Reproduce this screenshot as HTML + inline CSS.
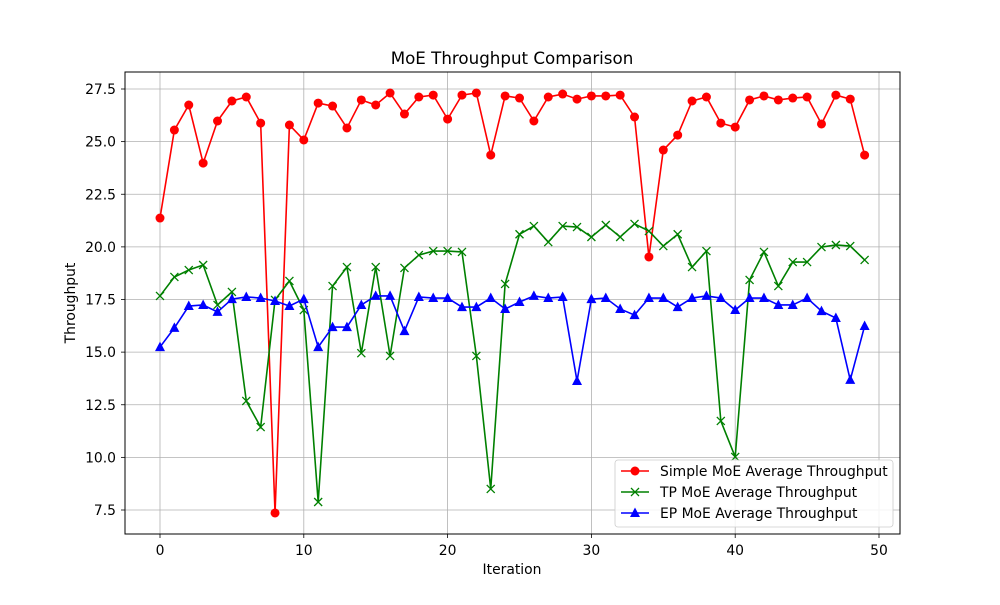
<!DOCTYPE html>
<html><head><meta charset="utf-8"><style>
body{margin:0;background:#fff;font-family:"Liberation Sans","DejaVu Sans",sans-serif}
svg text{font-family:"DejaVu Sans","Liberation Sans",sans-serif;fill:#000}
</style></head><body>
<svg id="chart" width="1000" height="600" xmlns="http://www.w3.org/2000/svg">
<rect width="1000" height="600" fill="#fff"/>
<g id="grid"></g>
<g id="series"></g>
<rect x="125" y="72" width="775" height="462" fill="none" stroke="#000" stroke-width="1"/>
<g id="ticks"></g>
<text x="512" y="64" font-size="16.7" text-anchor="middle">MoE Throughput Comparison</text>
<text x="512" y="574" font-size="13.9" text-anchor="middle">Iteration</text>
<text x="0" y="0" font-size="13.9" text-anchor="middle" transform="translate(75,303) rotate(-90)">Throughput</text>
<g id="legend"></g>
</svg>
<script>
const xTicks=[0,10,20,30,40,50];
const yTicks=[7.5,10.0,12.5,15.0,17.5,20.0,22.5,25.0,27.5];
const simple=[21.37,25.55,26.74,23.98,25.98,26.93,27.12,25.88,7.36,25.79,25.08,26.83,26.69,25.65,26.98,26.74,27.31,26.31,27.12,27.21,26.07,27.21,27.31,24.36,27.17,27.07,25.98,27.12,27.26,27.02,27.17,27.17,27.21,26.17,19.52,24.6,25.31,26.93,27.12,25.88,25.69,26.98,27.17,26.98,27.07,27.12,25.84,27.21,27.02,24.36];
const tp=[17.67,18.57,18.9,19.14,17.24,17.86,12.68,11.44,17.48,18.38,17.0,7.88,18.14,19.04,14.95,19.04,14.82,19.0,19.61,19.8,19.8,19.76,14.82,8.5,18.24,20.6,20.99,20.23,20.99,20.94,20.47,21.04,20.47,21.09,20.75,20.04,20.6,19.04,19.8,11.73,10.02,18.43,19.76,18.14,19.28,19.28,19.99,20.09,20.04,19.38];
const ep=[15.24,16.15,17.19,17.24,16.91,17.52,17.62,17.57,17.43,17.19,17.52,15.24,16.19,16.19,17.24,17.67,17.67,16.0,17.62,17.57,17.57,17.14,17.14,17.57,17.05,17.38,17.67,17.57,17.62,13.63,17.52,17.57,17.05,16.76,17.57,17.57,17.14,17.57,17.67,17.57,17.0,17.57,17.57,17.24,17.24,17.57,16.95,16.62,13.68,16.24];
const seriesNames=["Simple MoE Average Throughput","TP MoE Average Throughput","EP MoE Average Throughput"];
const NS="http://www.w3.org/2000/svg";
const X=v=>160+v*(879-160)/50;
const Y=v=>89+(27.5-v)*(510-89)/20;
function mk(tag,attrs,parent){const e=document.createElementNS(NS,tag);for(const k in attrs)e.setAttribute(k,attrs[k]);parent.appendChild(e);return e;}
const grid=document.getElementById('grid'),ticks=document.getElementById('ticks'),ser=document.getElementById('series'),leg=document.getElementById('legend');
xTicks.forEach(t=>{
  const l=mk('line',{x1:X(t),x2:X(t),y1:72,y2:534,stroke:'#b0b0b0','stroke-width':0.8},grid);
  
  
  mk('line',{x1:X(t),x2:X(t),y1:534,y2:538,stroke:'#000','stroke-width':0.8},ticks);
  const tx=mk('text',{x:X(t),y:555,'font-size':13.9,'text-anchor':'middle'},ticks);
  tx.textContent=t;
  
  
});
yTicks.forEach(t=>{
  const l=mk('line',{x1:125,x2:900,y1:Y(t),y2:Y(t),stroke:'#b0b0b0','stroke-width':0.8},grid);
  
  
  mk('line',{x1:121,x2:125,y1:Y(t),y2:Y(t),stroke:'#000','stroke-width':0.8},ticks);
  const tx=mk('text',{x:116,y:Y(t)+5,'font-size':13.9,'text-anchor':'end'},ticks);
  tx.textContent=t.toFixed(1);
  
  
});
function marker(kind,x,y,color,parent){
  let e;
  if(kind==='o'){e=mk('circle',{cx:x,cy:y,r:4.5,fill:color},parent);}
  else if(kind==='x'){e=mk('path',{d:`M${x-4},${y-4}L${x+4},${y+4}M${x-4},${y+4}L${x+4},${y-4}`,stroke:color,'stroke-width':1.3,fill:'none'},parent);}
  else {e=mk('path',{d:`M${x},${y-5.5}L${x+5},${y+4}L${x-5},${y+4}Z`,fill:color},parent);}
  return e;
}
const all=[[simple,'red','o'],[tp,'green','x'],[ep,'blue','^']];
all.forEach(([vals,color,kind],si)=>{
  const g=mk('g',{},ser);
  
  
  const p=mk('polyline',{points:vals.map((v,i)=>X(i)+','+Y(v)).join(' '),fill:'none',stroke:color,'stroke-width':1.6},g);
  
  
  vals.forEach((v,i)=>{
    const m=marker(kind,X(i),Y(v),color,g);
    
    
  });
});
const box=mk('rect',{x:615,y:460,width:278,height:67,rx:3,fill:'#fff','fill-opacity':0.85,stroke:'#ccc','stroke-width':0.8},leg);


all.forEach(([vals,color,kind],si)=>{
  const y=471+si*21;
  const g=mk('g',{},leg);
  
  
  mk('line',{x1:621,x2:649,y1:y,y2:y,stroke:color,'stroke-width':1.6},g);
  marker(kind,635,y,color,g);
  const t=mk('text',{x:660,y:y+5,'font-size':13.9},g);
  t.textContent=seriesNames[si];
});
</script>
</body></html>
